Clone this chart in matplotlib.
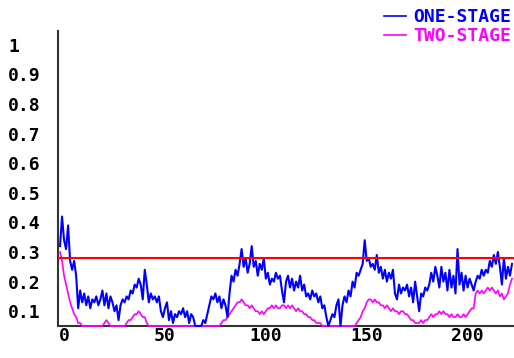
import numpy as np
import matplotlib
matplotlib.use("Agg")
import matplotlib.pyplot as plt
from matplotlib.ticker import FixedLocator, FixedFormatter

# sample index
steps = np.arange(-2, 223)

one_stage = [
    0.32, 0.42, 0.34, 0.31, 0.39, 0.27, 0.24, 0.27, 0.22, 0.11,
    0.17, 0.13, 0.16, 0.12, 0.15, 0.11, 0.14, 0.13, 0.15, 0.12,
    0.14, 0.17, 0.12, 0.16, 0.11, 0.15, 0.13, 0.10, 0.12, 0.07,
    0.12, 0.14, 0.13, 0.15, 0.14, 0.17, 0.16, 0.19, 0.18, 0.21,
    0.19, 0.14, 0.24, 0.19, 0.13, 0.16, 0.14, 0.15, 0.13, 0.15,
    0.10, 0.08, 0.11, 0.13, 0.07, 0.10, 0.06, 0.09, 0.08, 0.10,
    0.09, 0.11, 0.08, 0.10, 0.06, 0.09, 0.08, 0.05, 0.05, 0.05,
    0.05, 0.07, 0.06, 0.09, 0.12, 0.15, 0.14, 0.16, 0.13, 0.15,
    0.11, 0.14, 0.12, 0.08, 0.16, 0.22, 0.20, 0.24, 0.22, 0.26,
    0.31, 0.25, 0.28, 0.23, 0.26, 0.32, 0.25, 0.27, 0.22, 0.26,
    0.24, 0.28, 0.21, 0.23, 0.19, 0.21, 0.20, 0.23, 0.21, 0.22,
    0.17, 0.13, 0.20, 0.22, 0.18, 0.21, 0.17, 0.20, 0.18, 0.22,
    0.17, 0.19, 0.15, 0.16, 0.14, 0.17, 0.15, 0.16, 0.13, 0.15,
    0.11, 0.12, 0.08, 0.05, 0.07, 0.09, 0.08, 0.12, 0.14, 0.05,
    0.12, 0.15, 0.13, 0.17, 0.15, 0.20, 0.18, 0.23, 0.22, 0.24,
    0.26, 0.34, 0.27, 0.28, 0.25, 0.26, 0.24, 0.29, 0.23, 0.25,
    0.21, 0.24, 0.20, 0.23, 0.21, 0.24, 0.16, 0.14, 0.19, 0.16,
    0.18, 0.17, 0.19, 0.15, 0.18, 0.13, 0.20, 0.15, 0.10, 0.16,
    0.15, 0.18, 0.17, 0.19, 0.23, 0.20, 0.25, 0.22, 0.18, 0.25,
    0.20, 0.23, 0.17, 0.24, 0.18, 0.22, 0.16, 0.31, 0.19, 0.23,
    0.17, 0.22, 0.18, 0.21, 0.19, 0.17, 0.20, 0.22, 0.21, 0.24,
    0.22, 0.24, 0.23, 0.27, 0.25, 0.29, 0.26, 0.30, 0.25, 0.19,
    0.28, 0.21, 0.25, 0.22, 0.26,
]

two_stage = [
    0.30, 0.27, 0.22, 0.19, 0.16, 0.13, 0.11, 0.09, 0.08, 0.06,
    0.06, 0.05, 0.05, 0.05, 0.05, 0.05, 0.05, 0.05, 0.05, 0.05,
    0.05, 0.05, 0.06, 0.07, 0.06, 0.05, 0.05, 0.05, 0.05, 0.05,
    0.05, 0.05, 0.05, 0.06, 0.07, 0.07, 0.08, 0.09, 0.09, 0.10,
    0.09, 0.08, 0.08, 0.06, 0.05, 0.05, 0.05, 0.05, 0.05, 0.05,
    0.05, 0.05, 0.05, 0.05, 0.05, 0.05, 0.05, 0.05, 0.05, 0.05,
    0.05, 0.05, 0.05, 0.05, 0.05, 0.05, 0.05, 0.05, 0.05, 0.05,
    0.05, 0.05, 0.05, 0.05, 0.05, 0.05, 0.05, 0.05, 0.05, 0.05,
    0.06, 0.07, 0.07, 0.08, 0.09, 0.10, 0.11, 0.12, 0.13, 0.13,
    0.14, 0.13, 0.12, 0.12, 0.11, 0.12, 0.11, 0.10, 0.10, 0.09,
    0.10, 0.09, 0.10, 0.11, 0.11, 0.12, 0.11, 0.12, 0.11, 0.11,
    0.12, 0.12, 0.11, 0.12, 0.11, 0.12, 0.11, 0.10, 0.11, 0.10,
    0.10, 0.09, 0.09, 0.08, 0.08, 0.07, 0.07, 0.06, 0.06, 0.06,
    0.05, 0.05, 0.05, 0.05, 0.05, 0.05, 0.05, 0.05, 0.05, 0.05,
    0.05, 0.05, 0.05, 0.05, 0.05, 0.05, 0.05, 0.06, 0.07, 0.08,
    0.10, 0.11, 0.13, 0.14, 0.14, 0.13, 0.14, 0.13, 0.13, 0.12,
    0.12, 0.11, 0.12, 0.11, 0.10, 0.11, 0.10, 0.10, 0.09, 0.10,
    0.10, 0.09, 0.09, 0.08, 0.07, 0.07, 0.06, 0.06, 0.06, 0.07,
    0.06, 0.07, 0.07, 0.08, 0.09, 0.08, 0.09, 0.09, 0.10, 0.09,
    0.10, 0.09, 0.09, 0.08, 0.09, 0.08, 0.08, 0.09, 0.08, 0.08,
    0.09, 0.08, 0.09, 0.10, 0.11, 0.11, 0.16, 0.17, 0.16, 0.17,
    0.16, 0.17, 0.18, 0.17, 0.18, 0.17, 0.16, 0.17, 0.15, 0.16,
    0.14, 0.15, 0.16, 0.19, 0.21,
]

threshold = 0.28

y_ticks = [0.1, 0.2, 0.3, 0.4, 0.5, 0.6, 0.7, 0.8, 0.9, 1.0]
y_tick_labels = ["0.1", "0.2", "0.3", "0.4", "0.5", "0.6", "0.7", "0.8", "0.9", "1"]
x_ticks = [0, 50, 100, 150, 200]
x_tick_labels = ["0", "50", "100", "150", "200"]

W, H = 514, 358
fig = plt.figure(figsize=(W / 100, H / 100), dpi=100)
ax = fig.add_axes([58 / W, (H - 326) / H, (W - 58) / W, (326 - 31) / H])

ax.plot(steps, two_stage, color="#ff00ff", lw=1.2, label="TWO-STAGE",
        zorder=3, clip_on=False)
ax.plot(steps, one_stage, color="#0000ff", lw=1.5, label="ONE-STAGE",
        zorder=4, clip_on=False)
ax.axhline(threshold, color="#ff0000", lw=1.5, zorder=5)

ax.set_xlim(-3, 223)
ax.set_ylim(0.05, 1.047)

font = {"family": "DejaVu Sans Mono", "weight": "bold", "size": 13}

ax.yaxis.set_major_locator(FixedLocator(y_ticks))
ax.yaxis.set_major_formatter(FixedFormatter(y_tick_labels))
ax.xaxis.set_major_locator(FixedLocator(x_ticks))
ax.xaxis.set_major_formatter(FixedFormatter(x_tick_labels))
ax.tick_params(axis="both", length=0)
ax.tick_params(axis="y", pad=36)
ax.tick_params(axis="x", pad=1)
for lab in ax.get_yticklabels():
    lab.set_fontproperties(matplotlib.font_manager.FontProperties(**font))
    lab.set_horizontalalignment("left")
for lab in ax.get_xticklabels():
    lab.set_fontproperties(matplotlib.font_manager.FontProperties(**font))

for side in ("top", "right"):
    ax.spines[side].set_visible(False)
for side in ("left", "bottom"):
    ax.spines[side].set_color("#333333")
    ax.spines[side].set_linewidth(1.5)

handles, labels = ax.get_legend_handles_labels()
order = [1, 0]
leg = fig.legend([handles[i] for i in order], [labels[i] for i in order],
                 loc="upper right", bbox_to_anchor=(511 / W, 1 - 8 / H),
                 frameon=False, borderaxespad=0, borderpad=0,
                 handlelength=1.2, handletextpad=0.4, labelspacing=0.05,
                 prop=matplotlib.font_manager.FontProperties(**font),
                 labelcolor="linecolor")
for line in leg.get_lines():
    line.set_linewidth(1.2)

fig.savefig("out.png", dpi=100)
